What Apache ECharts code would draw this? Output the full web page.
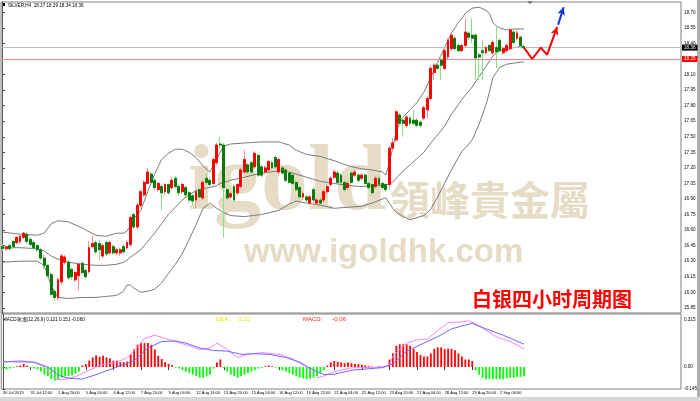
<!DOCTYPE html>
<html><head><meta charset="utf-8">
<script src="https://cdn.jsdelivr.net/npm/echarts@6/dist/echarts.min.js"></script>
<style>html,body{margin:0;padding:0;background:#fff}#c{width:700px;height:401px}</style>
</head><body><div id="c"></div>
<script>
// ---------- data ----------
const N_SLOTS = 197; // bar slots across the plot (152 bars + empty future space)
const opens = [
16.44,16.42,16.45,16.49,16.48,16.49,16.53,16.56,16.51,16.48,
16.45,16.41,16.33,16.26,16.17,16.01,15.95,16.10,16.29,16.29,
16.22,16.12,16.16,16.28,16.21,16.20,16.44,16.48,16.47,16.35,
16.48,16.38,16.44,16.38,16.38,16.44,16.43,16.46,16.75,16.63,
16.84,16.94,17.05,17.14,17.08,16.99,17.02,16.97,17.04,17.01,
17.10,17.02,16.97,17.01,16.96,16.93,16.89,16.99,16.91,17.10,
17.08,17.05,17.25,17.43,17.42,16.99,16.92,17.02,16.96,17.02,
17.16,17.23,17.25,17.21,17.32,17.21,17.16,17.18,17.25,17.30,
17.16,17.20,17.18,17.15,17.13,17.06,17.01,16.92,16.92,16.86,
16.99,16.86,16.89,16.89,16.97,17.04,17.11,17.15,17.13,17.06,
17.01,17.15,17.13,17.13,17.10,17.13,17.05,17.04,17.02,17.10,
17.05,17.04,17.04,17.39,17.47,17.71,17.66,17.61,17.68,17.66,
17.66,17.64,17.68,17.76,17.87,18.12,18.19,18.24,18.16,18.27,
18.35,18.45,18.38,18.33,18.38,18.50,18.48,18.48,18.29,18.33,
18.31,18.38,18.31,18.36,18.43,18.31,18.33,18.35,18.51,18.45,
18.46,18.37];
const closes = [
16.42,16.44,16.42,16.44,16.53,16.54,16.57,16.49,16.46,16.43,
16.41,16.33,16.26,16.16,15.98,15.95,16.12,16.35,16.34,16.14,
16.15,16.19,16.27,16.19,16.15,16.43,16.47,16.39,16.41,16.45,
16.37,16.48,16.38,16.41,16.41,16.39,16.48,16.72,16.63,16.84,
16.97,17.06,17.16,17.06,17.01,17.05,16.96,17.04,16.96,17.08,
17.02,16.96,17.04,16.94,16.89,16.88,16.97,16.92,17.06,17.06,
17.04,17.28,17.42,17.42,17.01,16.91,16.95,16.89,17.04,17.18,
17.28,17.16,17.16,17.34,17.13,17.13,17.20,17.26,17.20,17.21,
17.28,17.15,17.08,17.06,17.05,16.99,16.92,16.95,16.89,16.92,
16.89,16.89,16.86,16.97,17.02,17.10,17.16,17.06,17.06,16.99,
17.05,17.06,17.16,17.08,17.13,17.05,17.01,16.96,17.10,17.04,
17.01,16.99,17.39,17.44,17.74,17.63,17.63,17.69,17.63,17.63,
17.61,17.61,17.78,17.87,18.16,18.19,18.16,18.19,18.33,18.43,
18.48,18.35,18.33,18.38,18.51,18.46,18.45,18.26,18.27,18.31,
18.36,18.33,18.41,18.32,18.33,18.35,18.38,18.53,18.41,18.50,
18.38,18.36];
const lows = [
16.40,16.40,16.40,16.42,16.46,16.47,16.51,16.47,16.44,16.41,
16.39,16.31,16.22,16.14,15.96,15.92,15.92,16.08,16.27,16.12,
16.12,16.10,16.02,16.17,16.13,16.18,16.42,16.37,16.31,16.33,
16.35,16.36,16.36,16.36,16.35,16.37,16.41,16.44,16.61,16.61,
16.82,16.92,17.04,17.05,16.99,16.97,16.79,16.94,16.94,16.99,
17.00,16.93,16.95,16.92,16.86,16.84,16.81,16.90,16.89,17.04,
17.02,17.04,17.23,17.39,16.53,16.89,16.90,16.87,16.93,17.00,
17.14,17.14,17.14,17.19,17.11,17.11,17.14,17.16,17.18,17.19,
17.14,17.13,17.06,17.05,17.04,16.97,16.90,16.89,16.87,16.84,
16.86,16.84,16.84,16.87,16.95,17.02,17.09,17.05,17.05,16.97,
16.99,17.05,17.11,17.06,17.08,17.04,16.99,16.94,17.00,17.02,
16.99,16.97,16.99,17.37,17.45,17.61,17.50,17.59,17.61,17.61,
17.59,17.59,17.66,17.68,17.85,18.05,18.14,18.05,18.14,18.25,
18.33,18.33,18.32,18.32,18.36,18.44,18.40,18.05,18.05,18.05,
18.29,18.32,18.29,18.16,18.32,18.29,18.32,18.33,18.39,18.43,
18.36,18.34];
const highs = [
16.46,16.45,16.47,16.50,16.54,16.56,16.58,16.58,16.53,16.50,
16.47,16.43,16.36,16.27,16.19,16.02,16.14,16.37,16.36,16.31,
16.24,16.21,16.29,16.30,16.23,16.49,16.55,16.50,16.51,16.47,
16.50,16.50,16.46,16.43,16.43,16.46,16.50,16.74,16.77,16.86,
16.99,17.08,17.20,17.16,17.10,17.06,17.04,17.05,17.05,17.11,
17.12,17.04,17.05,17.03,16.98,16.95,16.99,17.01,17.08,17.15,
17.11,17.30,17.44,17.50,17.44,17.01,16.97,17.04,17.05,17.20,
17.37,17.25,17.27,17.36,17.34,17.23,17.22,17.28,17.27,17.32,
17.30,17.22,17.20,17.17,17.15,17.08,17.03,16.97,16.94,16.94,
17.01,16.91,16.91,16.99,17.04,17.12,17.18,17.17,17.15,17.08,
17.07,17.17,17.18,17.15,17.15,17.15,17.07,17.05,17.12,17.12,
17.07,17.05,17.41,17.49,17.76,17.73,17.69,17.71,17.70,17.76,
17.68,17.66,17.80,17.89,18.18,18.21,18.21,18.29,18.35,18.45,
18.50,18.47,18.40,18.40,18.64,18.52,18.64,18.50,18.31,18.43,
18.38,18.40,18.43,18.56,18.45,18.37,18.40,18.55,18.53,18.53,
18.48,18.39];

const bbIdx = [0,5,10,12,14,16,19,23,27,30,33,35,36,37,38,40,42,44,46,48,50,52,54,56,58,60,62,63,64,66,70,75,80,83,85,88,92,96,100,104,107,110,111,112,113,114,116,118,120,122,124,126,128,130,132,133,134,136,138,140,141,142,143,144,146,148,150,151];
const bbUpper = [16.58,16.56,16.55,16.57,16.66,16.69,16.68,16.62,16.55,16.54,16.57,16.57,16.59,16.64,16.71,16.79,16.97,17.14,17.28,17.34,17.38,17.38,17.35,17.30,17.22,17.16,17.28,17.35,17.41,17.43,17.44,17.45,17.45,17.42,17.37,17.33,17.31,17.27,17.22,17.19,17.18,17.16,17.13,17.25,17.39,17.56,17.69,17.76,17.83,17.93,18.07,18.22,18.36,18.50,18.60,18.64,18.69,18.74,18.75,18.72,18.69,18.60,18.57,18.55,18.53,18.54,18.54,18.54];
const bbMid = [16.43,16.43,16.42,16.40,16.35,16.32,16.29,16.27,16.26,16.26,16.27,16.29,16.31,16.34,16.36,16.41,16.49,16.57,16.66,16.75,16.82,16.89,16.94,16.98,17.00,17.01,17.03,17.05,17.06,17.08,17.11,17.15,17.17,17.16,17.14,17.11,17.07,17.05,17.03,17.02,17.03,17.03,17.03,17.05,17.06,17.10,17.17,17.23,17.29,17.35,17.44,17.52,17.60,17.72,17.81,17.86,17.90,17.98,18.08,18.18,18.23,18.28,18.31,18.33,18.34,18.36,18.37,18.37];
const bbLower = [16.29,16.30,16.30,16.26,16.07,15.95,15.94,15.95,15.95,15.96,15.97,16.01,16.07,16.07,16.04,16.00,16.01,16.03,16.09,16.18,16.27,16.37,16.51,16.65,16.81,16.86,16.81,16.79,16.77,16.74,16.73,16.75,16.79,16.85,16.88,16.86,16.84,16.81,16.82,16.83,16.86,16.90,16.91,16.86,16.81,16.77,16.73,16.70,16.72,16.74,16.80,16.92,17.05,17.18,17.30,17.36,17.39,17.47,17.62,17.81,17.93,18.07,18.12,18.17,18.20,18.21,18.22,18.22];

// hand-drawn projection (bar position, price)
const projRedIdx = [151,153.4,155.9,157.7,160.6];
const projRedVal = [18.36,18.25,18.36,18.29,18.56];
const projBlueIdx = [160.9,162.5];
const projBlueVal = [18.58,18.75];

const currentPrice = 18.36;
const redLevel = 18.25;

// MACD (12,26,9)
const macdHist = [
-0.01,-0.015,-0.01,-0.005,0.005,0.01,0.02,0.01,-0.005,-0.01,
-0.015,-0.03,-0.05,-0.06,-0.08,-0.09,-0.085,-0.07,-0.06,-0.06,
-0.055,-0.045,-0.03,0.01,0.02,0.042,0.063,0.078,0.067,0.074,
0.063,0.057,0.042,0.042,0.032,0.032,0.036,0.084,0.116,0.147,
0.158,0.158,0.158,0.147,0.116,0.074,0.053,0.032,0.021,0.011,
-0.005,-0.01,-0.02,-0.03,-0.04,-0.05,-0.06,-0.07,-0.07,-0.06,
-0.05,-0.01,0.03,0.05,-0.005,-0.03,-0.05,-0.06,-0.07,-0.06,
-0.05,-0.04,-0.03,-0.02,-0.01,-0.005,0.005,0.01,0.005,-0.005,
-0.01,-0.02,-0.03,-0.04,-0.05,-0.06,-0.07,-0.075,-0.08,-0.075,
-0.07,-0.06,-0.04,-0.02,0.01,0.03,0.04,0.035,0.03,0.025,
0.03,0.025,0.02,0.02,0.015,0.01,0.005,0.003,-0.005,0.005,
0.003,0.005,0.05,0.09,0.14,0.15,0.15,0.15,0.14,0.12,
0.10,0.08,0.07,0.07,0.09,0.12,0.13,0.13,0.12,0.12,
0.12,0.11,0.09,0.07,0.05,0.05,0.04,-0.02,-0.05,-0.07,
-0.08,-0.08,-0.08,-0.08,-0.08,-0.08,-0.075,-0.07,-0.07,-0.065,
-0.065,-0.06];
const difIdx = [0,5,9,12,15,17,21,24,28,33,36,38,41,44,47,53,57,60,62,65,68,71,75,80,84,88,91,93,96,101,110,112,113,117,120,123,126,129,133,135,137,140,143,147,151];
const difVal = [0.032,0.042,0.032,0.0,-0.074,-0.084,-0.063,-0.032,0.011,0.032,0.063,0.105,0.189,0.21,0.189,0.147,0.116,0.126,0.158,0.116,0.063,0.084,0.095,0.084,0.053,0.0,-0.07,-0.06,-0.03,-0.006,0.0,0.011,0.074,0.158,0.179,0.185,0.242,0.294,0.298,0.305,0.284,0.242,0.2,0.168,0.121];
const deaIdx = [0,9,13,16,19,23,28,33,38,42,46,50,53,57,61,65,69,73,77,82,86,90,93,96,101,110,113,117,122,126,130,134,136,140,145,151];
const deaVal = [0.036,0.032,0.0,-0.053,-0.074,-0.08,-0.042,0.0,0.042,0.126,0.168,0.172,0.158,0.126,0.109,0.105,0.084,0.088,0.084,0.063,0.032,-0.021,-0.05,-0.048,-0.021,-0.004,0.021,0.105,0.158,0.2,0.252,0.277,0.288,0.252,0.21,0.151];

const priceTicks = [15.85,16.00,16.15,16.30,16.45,16.60,16.75,16.90,17.05,17.20,17.35,17.50,17.65,17.80,17.95,18.10,18.25,18.40,18.55,18.70];
const macdTicks = [0.315,0,-0.145];
const xTickLabels = ['30 Jul 2019','31 Jul 12:00','1 Aug 20:00','5 Aug 06:00','6 Aug 12:00','7 Aug 20:00','9 Aug 04:00','12 Aug 14:00','13 Aug 20:00','15 Aug 04:00','16 Aug 12:00','19 Aug 22:00','21 Aug 04:00','22 Aug 12:00','23 Aug 20:00','27 Aug 04:00','28 Aug 12:00','29 Aug 20:00','2 Sep 06:00'];
const LABEL_STEP = 8;

const headerText = 'SILVER,H4  18.37 18.39 18.34 18.36';
const macdTitle = 'MACD改進(12,26,9) 0.121 0.151 -0.060';
const deaText = 'DEA:     0.15';
const macdText = 'MACD:      -0.06';
const chartTitle = '白银四小时周期图';

// ---------- build ----------
const cats = Array.from({length: N_SLOTS}, (_, i) => String(i));
const wickData = opens.map((o, i) => [o, closes[i], lows[i], highs[i]]);
const bodyData = opens.map((o, i) => [o, closes[i], Math.min(o, closes[i]), Math.max(o, closes[i])]);
const pairs = (xs, ys) => xs.map((x, i) => [x, ys[i]]);

const redProj = pairs(projRedIdx, projRedVal).map((p, i, a) => i === a.length - 1 ?
  {value: p, symbol: 'arrow', symbolSize: [6, 8], symbolRotate: -19} : {value: p});
const blueProj = pairs(projBlueIdx, projBlueVal).map((p, i, a) => i === a.length - 1 ?
  {value: p, symbol: 'arrow', symbolSize: [6, 8], symbolRotate: -19} : {value: p});

const chart = echarts.init(document.getElementById('c'), null, {renderer: 'canvas'});
const FONT = 'Arial, "Liberation Sans", sans-serif';
const SMALL = 4.6;
const XSMALL = 4.0;
const WM = '#e6dcc5';
const showTick = (i) => i % LABEL_STEP === 0 && i / LABEL_STEP < xTickLabels.length;
const bbLine = (data) => ({type: 'line', xAxisIndex: 1, yAxisIndex: 0, data, symbol: 'none', silent: true,
  lineStyle: {color: '#7a7a7a', width: 1}, z: 3});

chart.setOption({
  animation: false,
  backgroundColor: '#ffffff',
  grid: [
    {left: 1, top: 2, width: 680, height: 311, show: true, borderColor: '#808080', borderWidth: 1},
    {left: 1, top: 314, width: 680, height: 75, show: true, borderColor: '#808080', borderWidth: 1}
  ],
  xAxis: [
    {type: 'category', gridIndex: 0, data: cats, show: false, boundaryGap: true},
    {type: 'value', gridIndex: 0, min: -0.5, max: N_SLOTS - 0.5, show: false},
    {type: 'category', gridIndex: 1, data: cats, boundaryGap: true,
      axisLine: {show: false},
      axisTick: {show: true, alignWithLabel: true, length: 3, lineStyle: {color: '#333'}, interval: showTick},
      axisLabel: {show: true, fontSize: XSMALL, color: '#000', fontFamily: FONT, align: 'left', margin: 2,
        showMinLabel: true, hideOverlap: false, interval: showTick,
        formatter: (v, i) => xTickLabels[i / LABEL_STEP] || ''},
      splitLine: {show: false}},
    {type: 'value', gridIndex: 1, min: -0.5, max: N_SLOTS - 0.5, show: false}
  ],
  yAxis: [
    {type: 'value', gridIndex: 0, position: 'right', min: 15.80, max: 18.80, scale: true,
      splitLine: {show: false},
      axisLine: {show: true, lineStyle: {color: '#555'}},
      axisTick: {show: true, length: 2, customValues: priceTicks, lineStyle: {color: '#333'}},
      axisLabel: {fontSize: SMALL, color: '#000', fontFamily: FONT, margin: 3, customValues: priceTicks,
        formatter: (v) => v.toFixed(2)}},
    {type: 'value', gridIndex: 1, position: 'right', min: -0.145, max: 0.35,
      splitLine: {show: false},
      axisLine: {show: true, lineStyle: {color: '#555'}},
      axisTick: {show: true, length: 2, customValues: macdTicks, lineStyle: {color: '#333'}},
      axisLabel: {fontSize: SMALL, color: '#000', fontFamily: FONT, margin: 3, customValues: macdTicks,
        formatter: (v) => v === 0 ? '0.00' : String(v)}}
  ],
  graphic: [
    {type: 'text', left: 188, top: 138, z: -1, silent: true,
      style: {text: 'igold', font: 'bold 94px "Liberation Serif", serif', fill: WM}},
    {type: 'text', left: 390, top: 180, z: -1, silent: true,
      style: {text: '領峰貴金屬', font: 'bold 40px "Noto Sans CJK TC", sans-serif', fill: WM}},
    {type: 'text', left: 244, top: 236, z: -1, silent: true,
      style: {text: 'www.igoldhk.com', font: 'bold 33px "Liberation Sans", Arial, sans-serif', fill: WM}},
    {type: 'rect', left: 2, top: 3, shape: {width: 3, height: 3}, style: {fill: '#000'}},
    {type: 'text', left: 8, top: 3, style: {text: headerText, font: SMALL + 'px ' + FONT, fill: '#000'}},
    {type: 'text', left: 3, top: 317, style: {text: macdTitle, font: SMALL + 'px ' + FONT, fill: '#000'}},
    {type: 'text', left: 216, top: 316, style: {text: deaText, font: '6px ' + FONT, fill: '#e6e600'}},
    {type: 'text', left: 303, top: 316, style: {text: macdText, font: '6px ' + FONT, fill: '#ff2020'}},
    {type: 'text', left: 472, top: 289, style: {text: chartTitle, font: 'bold 20px "Noto Sans CJK SC", sans-serif', fill: '#ff0000'}},
    {type: 'polygon', shape: {points: [[527, 1], [533, 1], [530, 4]]}, style: {fill: '#777'}},
    {type: 'rect', left: 697, top: 0, shape: {width: 3, height: 401}, style: {fill: '#b0b0b0'}},
    {type: 'rect', left: 0, top: 397, shape: {width: 700, height: 4}, style: {fill: '#d8d8d8'}}
  ],
  series: [
    {type: 'candlestick', xAxisIndex: 0, yAxisIndex: 0, data: wickData, barWidth: 2.4, silent: true,
      itemStyle: {color: '#ff8c8c', color0: '#8ade8a', borderColor: '#ff8c8c', borderColor0: '#8ade8a', borderWidth: 1},
      z: 4},
    {type: 'candlestick', xAxisIndex: 0, yAxisIndex: 0, data: bodyData, barWidth: 2.4, silent: true,
      itemStyle: {color: '#ff0000', color0: '#0a7a0a', borderColor: '#ff0000', borderColor0: '#0a7a0a', borderWidth: 1},
      z: 5,
      markLine: {silent: true, symbol: 'none', animation: false,
        data: [
          {yAxis: currentPrice, lineStyle: {color: '#bdbdbd', width: 1, type: 'solid'},
            label: {position: 'end', distance: 1, formatter: currentPrice.toFixed(2), color: '#fff',
              backgroundColor: '#000', padding: [1, 2, 0, 2], fontSize: SMALL, fontFamily: FONT}},
          {yAxis: redLevel, lineStyle: {color: '#ff8a8a', width: 1, type: 'solid'},
            label: {position: 'end', distance: 1, formatter: redLevel.toFixed(2), color: '#fff',
              backgroundColor: '#ff0000', padding: [1, 2, 0, 2], fontSize: SMALL, fontFamily: FONT}}
        ]}},
    bbLine(pairs(bbIdx, bbUpper)),
    bbLine(pairs(bbIdx, bbMid)),
    bbLine(pairs(bbIdx, bbLower)),
    {type: 'line', xAxisIndex: 1, yAxisIndex: 0, data: redProj, symbol: 'none', showSymbol: true,
      itemStyle: {color: '#ff0000'}, lineStyle: {color: '#ff0000', width: 2}, z: 6},
    {type: 'line', xAxisIndex: 1, yAxisIndex: 0, data: blueProj, symbol: 'none', showSymbol: true,
      itemStyle: {color: '#1030e0'}, lineStyle: {color: '#1030e0', width: 2}, z: 6},
    {type: 'bar', xAxisIndex: 2, yAxisIndex: 1, data: macdHist, barWidth: 1.8, silent: true,
      itemStyle: {color: (p) => p.value >= 0 ? '#ff0000' : '#00ff00'}},
    {type: 'line', xAxisIndex: 3, yAxisIndex: 1, data: pairs(difIdx, difVal), symbol: 'none',
      lineStyle: {color: '#ff80ff', width: 1}, z: 4},
    {type: 'line', xAxisIndex: 3, yAxisIndex: 1, data: pairs(deaIdx, deaVal), symbol: 'none',
      lineStyle: {color: '#6a6aff', width: 1}, z: 4}
  ]
});
</script></body></html>
